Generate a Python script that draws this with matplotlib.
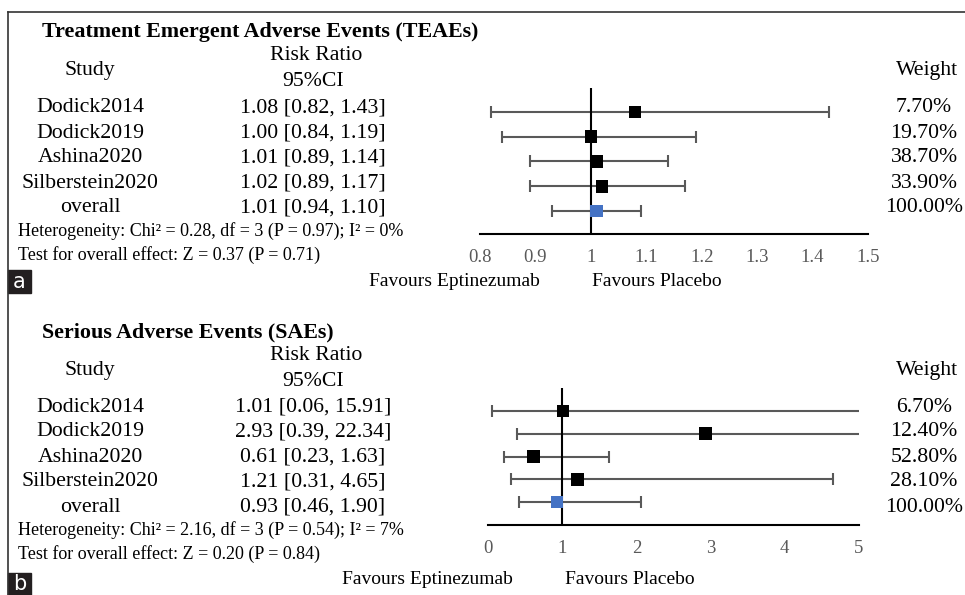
import numpy as np
import matplotlib.pyplot as plt
from matplotlib.lines import Line2D
from matplotlib.patches import Rectangle

W, H = 965, 595

# panel a : TEAEs
studies = ['Dodick2014', 'Dodick2019', 'Ashina2020', 'Silberstein2020', 'overall']
a_est = [1.08, 1.00, 1.01, 1.02, 1.01]
a_lo = [0.82, 0.84, 0.89, 0.89, 0.93]
a_hi = [1.43, 1.19, 1.14, 1.17, 1.09]
a_ci = ['1.08 [0.82, 1.43]', '1.00 [0.84, 1.19]', '1.01 [0.89, 1.14]',
        '1.02 [0.89, 1.17]', '1.01 [0.94, 1.10]']
a_weight = ['7.70%', '19.70%', '38.70%', '33.90%', '100.00%']
a_ticks = [0.8, 0.9, 1.0, 1.1, 1.2, 1.3, 1.4, 1.5]
a_ticklabels = ['0.8', '0.9', '1', '1.1', '1.2', '1.3', '1.4', '1.5']
a_het = 'Heterogeneity: Chi² = 0.28, df = 3 (P = 0.97); I² = 0%'
a_test = 'Test for overall effect: Z = 0.37 (P = 0.71)'

# panel b : SAEs
b_est = [1.01, 2.93, 0.61, 1.21, 0.93]
b_lo = [0.06, 0.39, 0.22, 0.31, 0.42]
b_hi = [15.91, 22.34, 1.63, 4.65, 2.06]
b_ci = ['1.01 [0.06, 15.91]', '2.93 [0.39, 22.34]', '0.61 [0.23, 1.63]',
        '1.21 [0.31, 4.65]', '0.93 [0.46, 1.90]']
b_weight = ['6.70%', '12.40%', '52.80%', '28.10%', '100.00%']
b_ticks = [0, 1, 2, 3, 4, 5]
b_het = 'Heterogeneity: Chi² = 2.16, df = 3 (P = 0.54); I² = 7%'
b_test = 'Test for overall effect: Z = 0.20 (P = 0.84)'

plt.rcParams['font.family'] = ['Liberation Serif', 'DejaVu Serif']

fig = plt.figure(figsize=(W/100, H/100), dpi=100)


def fx(x):
    return x / W


def fy(y):
    return 1 - y / H


def txt(x, y, s, size=15.7, ha='center', **kw):
    fig.text(fx(x), fy(y + 2), s, fontsize=size, ha=ha, va='center', **kw)


def panel(x0, x1, ytop, ybot, xlim, ylim, est, lo, hi, ticks, ticklabels):
    ax = fig.add_axes([fx(x0), fy(ybot), fx(x1) - fx(x0), fy(ytop) - fy(ybot)])
    ax.set_xlim(*xlim)
    ax.set_ylim(*ylim)
    for s in ['top', 'right', 'left']:
        ax.spines[s].set_visible(False)
    ax.spines['bottom'].set_linewidth(1.5)
    ax.set_yticks([])
    ax.set_xticks(ticks)
    ax.set_xticklabels(ticklabels)
    ax.tick_params(axis='x', length=0, pad=11, labelsize=13.5, labelcolor='#595959')
    ax.axvline(1, color='black', lw=1.5, zorder=2)
    rows = np.arange(len(est))
    est = np.array(est)
    ax.errorbar(est, rows, xerr=[est - np.array(lo), np.array(hi) - est],
                fmt='none', ecolor='#595959', elinewidth=1.5, capsize=4,
                capthick=1.5, zorder=1)
    colors = ['black'] * (len(est) - 1) + ['#4472C4']
    ax.scatter(est, rows, marker='s', s=82, c=colors, zorder=3, linewidths=0)
    ax.patch.set_alpha(0)
    return ax


panel(480, 868, 88, 234, (0.8, 1.5), (4.93, -0.97), a_est, a_lo, a_hi, a_ticks, a_ticklabels)
panel(488, 859, 388, 525, (0, 5), (5.0, -1.0), b_est, b_lo, b_hi, b_ticks, [str(t) for t in b_ticks])

# text tables
for title, ty, rows_y, ci, weight, het, test, fav_y, fav_l, fav_r in [
        ('Treatment Emergent Adverse Events (TEAEs)', 30, [106, 131, 156, 181, 206],
         a_ci, a_weight, a_het, a_test, 280, 540, 592),
        ('Serious Adverse Events (SAEs)', 330, [405, 430, 455, 480, 505],
         b_ci, b_weight, b_het, b_test, 578, 513, 565)]:
    txt(42, ty, title, size=15.8, ha='left', fontweight='bold')
    txt(90, ty + 38, 'Study')
    txt(316, ty + 24, 'Risk Ratio')
    txt(313, ty + 50, '95%CI')
    txt(927, ty + 38, 'Weight')
    for y, s, c, w in zip(rows_y, studies, ci, weight):
        txt(90, y, s)
        txt(313, y, c)
        txt(924, y, w)
    txt(18, rows_y[-1] + 23, het, size=13, ha='left')
    txt(18, rows_y[-1] + 47, test, size=13, ha='left')
    txt(fav_l, fav_y, 'Favours Eptinezumab', size=14, ha='right')
    txt(fav_r, fav_y, 'Favours Placebo', size=14, ha='left')

# frame lines
fig.add_artist(Line2D([fx(8), 1], [fy(12), fy(12)], color='#333333', lw=1.2))
fig.add_artist(Line2D([fx(8), fx(8)], [fy(12), 0], color='#333333', lw=1.2))

# panel letters
for lab, y0, y1 in [('a', 270, 293), ('b', 573, 595)]:
    fig.add_artist(Rectangle((fx(8), fy(y1)), fx(31) - fx(8), fy(y0) - fy(y1),
                             color='#231f20', transform=fig.transFigure))
    fig.text(fx(19.5), fy((y0 + y1) / 2), lab, color='white', fontsize=15,
             ha='center', va='center', family='DejaVu Sans')

fig.savefig('out.png', dpi=100)
